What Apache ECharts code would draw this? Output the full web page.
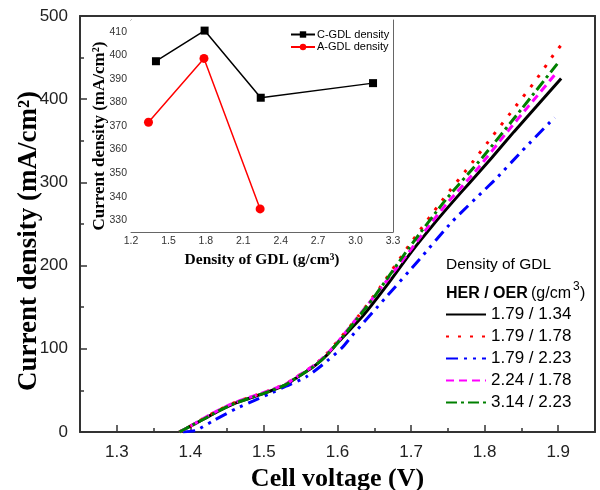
<!DOCTYPE html>
<html>
<head>
<meta charset="utf-8">
<script src="https://cdn.jsdelivr.net/npm/echarts@6/dist/echarts.min.js"></script>
<style>html,body{margin:0;padding:0;background:#fff}#c{width:600px;height:490px}</style>
</head>
<body>
<div id="c"></div>
<script>
// ---- main chart data: cell voltage (V) vs current density (mA/cm2) ----
const seriesNames = ['1.79 / 1.34', '1.79 / 1.78', '1.79 / 2.23', '2.24 / 1.78', '3.14 / 2.23'];
const vBlack = [1.385,1.40,1.417,1.44,1.462,1.485,1.508,1.53,1.544,1.558,1.571,1.585,1.602,1.634,1.666,1.70,1.73,1.756,1.78,1.81,1.84,1.87,1.904];
const iBlack = [0,7,15,26,35,42,49,57,65,73,81,92,109,139,175,216,249,276,300,330,361,391,425];
const vRed = [1.385,1.40,1.417,1.44,1.462,1.485,1.508,1.53,1.544,1.558,1.571,1.585,1.602,1.629,1.658,1.697,1.742,1.785,1.811,1.84,1.868,1.895,1.9085];
const iRed = [0,7,16,27,36,43,50,58,66,74,82,94,111,140,174,224,278,326,356,389,421,455,470];
const vBlue = [1.39,1.408,1.43,1.462,1.485,1.508,1.53,1.557,1.58,1.607,1.62,1.666,1.711,1.756,1.801,1.815,1.85,1.895];
const iBlue = [0,2,13,28,37,46,55,66,81,102,116,162,207,253,292,304,337,378];
const vMagenta = [1.385,1.40,1.417,1.44,1.462,1.485,1.508,1.53,1.544,1.558,1.571,1.585,1.602,1.63,1.66,1.69,1.72,1.75,1.79,1.83,1.86,1.896];
const iMagenta = [0,7,16,27,36,43,50,58,66,74,82,93,110,141,174,208,243,276,316,360,392,430];
const vGreen = [1.385,1.40,1.417,1.44,1.462,1.485,1.508,1.53,1.544,1.558,1.571,1.585,1.602,1.647,1.697,1.747,1.797,1.85,1.90];
const iGreen = [0,7,15,26,35,42,49,57,65,73,81,92,109,159,221,279,330,388,444];
const xMajorTicks = [1.3,1.4,1.5,1.6,1.7,1.8,1.9];
const xMinorTicks = [1.35,1.45,1.55,1.65,1.75,1.85];

// ---- inset data: density of GDL (g/cm3) vs current density ----
const insetNames = ['C-GDL density', 'A-GDL density'];
const cDensity = [1.40, 1.79, 2.24, 3.14];
const cCurrent = [397.5, 410.5, 382, 388.2];
const aDensity = [1.34, 1.785, 2.235];
const aCurrent = [371.6, 398.7, 334.8];
const insetYTicks = [330,340,350,360,370,380,390,400,410];
const insetYMinor = [330,335,340,345,350,355,360,365,370,375,380,385,390,395,400,405,410];

const zip = (a, b) => a.map((v, i) => [v, b[i]]);
const SANS = 'Liberation Sans';
const SERIF = 'Liberation Serif';
const AX = '#333';
const IAX = '#666';

const mainStyles = [
  {color:'#000000', type:'solid'},
  {color:'#ff0000', type:[3,9]},
  {color:'#0000ff', type:[12,6,3,6,3,6]},
  {color:'#ff00ff', type:[8,5]},
  {color:'#008000', type:[11,4,3,4]}
];
const mainData = [zip(vBlack,iBlack), zip(vRed,iRed), zip(vBlue,iBlue), zip(vMagenta,iMagenta), zip(vGreen,iGreen)];

const series = mainData.map((d, k) => ({
  name: seriesNames[k], type:'line', xAxisIndex:0, yAxisIndex:0, data:d,
  smooth:0.2, symbol:'none', showSymbol:false,
  lineStyle:{color:mainStyles[k].color, width:3, type:mainStyles[k].type},
  itemStyle:{color:mainStyles[k].color}, z: 2 + k
}));
series.push({
  name: insetNames[0], type:'line', xAxisIndex:3, yAxisIndex:2, data:zip(cDensity,cCurrent),
  symbol:'rect', symbolSize:8, lineStyle:{color:'#000', width:1.5}, itemStyle:{color:'#000'}, z:10
});
series.push({
  name: insetNames[1], type:'line', xAxisIndex:3, yAxisIndex:2, data:zip(aDensity,aCurrent),
  symbol:'circle', symbolSize:9, lineStyle:{color:'#ff0000', width:1.5}, itemStyle:{color:'#ff0000'}, z:10
});

const noSplit = {show:false};
const option = {
  animation:false,
  backgroundColor:'#fff',
  grid:[
    {left:80, right:5, top:16, bottom:58, containLabel:false, outerBoundsMode:'none'},
    {left:131, right:207, top:20, bottom:258, containLabel:false, outerBoundsMode:'none', show:true, backgroundColor:'#fff', borderWidth:0, z:5}
  ],
  xAxis:[
    {type:'value', gridIndex:0, min:1.25, max:1.95, position:'bottom',
     axisLine:{onZero:false, lineStyle:{color:AX, width:2}},
     axisTick:{inside:true, length:7, customValues:xMajorTicks, lineStyle:{color:AX, width:1.5}},
     axisLabel:{customValues:xMajorTicks, formatter:v=>v.toFixed(1), fontFamily:SANS, fontSize:17, color:'#222', margin:12},
     splitLine:noSplit,
     name:'Cell voltage (V)', nameLocation:'middle', nameGap:31,
     nameTextStyle:{fontFamily:SERIF, fontWeight:'bold', fontSize:26, color:'#000'}},
    {type:'value', gridIndex:0, min:1.25, max:1.95, position:'bottom',
     axisLine:{show:false, onZero:false},
     axisTick:{inside:true, length:4, customValues:xMinorTicks, lineStyle:{color:AX, width:1.5}},
     axisLabel:{show:false}, splitLine:noSplit},
    {type:'value', gridIndex:0, min:1.25, max:1.95, position:'top',
     axisLine:{onZero:false, lineStyle:{color:AX, width:2}},
     axisTick:{show:false}, axisLabel:{show:false}, splitLine:noSplit},
    {type:'value', gridIndex:1, min:1.2, max:3.3, interval:0.3, position:'bottom',
     axisLine:{onZero:false, lineStyle:{color:IAX, width:1}},
     axisTick:{inside:true, length:4, lineStyle:{color:IAX}},
     minorTick:{show:true, splitNumber:2, length:2.5, lineStyle:{color:IAX}},
     axisLabel:{formatter:v=>v.toFixed(1), fontFamily:SANS, fontSize:10.5, color:'#333', margin:4},
     splitLine:noSplit,
     name:'Density of GDL (g/cm³)', nameLocation:'middle', nameGap:20,
     nameTextStyle:{fontFamily:SERIF, fontWeight:'bold', fontSize:15.5, color:'#000'}},
    {type:'value', gridIndex:1, min:1.2, max:3.3, position:'top',
     axisLine:{onZero:false, lineStyle:{color:IAX, width:1}},
     axisTick:{show:false}, axisLabel:{show:false}, splitLine:noSplit}
  ],
  yAxis:[
    {type:'value', gridIndex:0, min:0, max:500, interval:100, position:'left',
     axisLine:{show:true, onZero:false, lineStyle:{color:AX, width:2}},
     axisTick:{show:true, inside:true, length:7, lineStyle:{color:AX, width:1.5}},
     minorTick:{show:true, splitNumber:2, length:4, lineStyle:{color:AX, width:1.5}},
     axisLabel:{fontFamily:SANS, fontSize:17, color:'#222', margin:12},
     splitLine:noSplit},
    {type:'value', gridIndex:0, min:0, max:500, position:'right',
     axisLine:{show:true, onZero:false, lineStyle:{color:AX, width:2}},
     axisTick:{show:false}, axisLabel:{show:false}, splitLine:noSplit},
    {type:'value', gridIndex:1, min:325, max:415, position:'left',
     axisLine:{show:true, onZero:false, lineStyle:{color:IAX, width:1}},
     axisTick:{show:true, inside:true, length:3, customValues:insetYMinor, lineStyle:{color:IAX}},
     axisLabel:{customValues:insetYTicks, fontFamily:SANS, fontSize:10.5, color:'#333', margin:4},
     splitLine:noSplit},
    {type:'value', gridIndex:1, min:325, max:415, position:'right',
     axisLine:{show:true, onZero:false, lineStyle:{color:IAX, width:1}},
     axisTick:{show:false}, axisLabel:{show:false}, splitLine:noSplit}
  ],
  legend:[
    {data:seriesNames, orient:'vertical', left:445, top:306, padding:0, itemWidth:40, itemHeight:14, itemGap:5,
     itemStyle:{opacity:0, color:'rgba(0,0,0,0)', borderWidth:0},
     textStyle:{fontFamily:SANS, fontSize:17, color:'#000', padding:[0,0,0,0]}},
    {data:insetNames, orient:'vertical', left:290, top:29, padding:0, itemWidth:24, itemHeight:8, itemGap:1.5,
     textStyle:{fontFamily:SANS, fontSize:11, color:'#000', padding:[0,0,0,-3]}, z:12}
  ],
  graphic:[
    {type:'text', x:29, y:241, rotation:Math.PI/2, style:{text:'Current density (mA/cm²)', fontFamily:SERIF, fontWeight:'bold', fontSize:27, fill:'#000', align:'center', verticalAlign:'middle'}},
    {type:'text', x:100, y:136, rotation:Math.PI/2, z:20, style:{text:'Current density (mA/cm²)', fontFamily:SERIF, fontWeight:'bold', fontSize:17, fill:'#000', align:'center', verticalAlign:'middle'}},
    {type:'text', left:446, top:257, style:{text:'Density of GDL', fontFamily:SANS, fontSize:15.5, fill:'#000'}},
    {type:'text', left:446, top:286, style:{text:'HER / OER', fontFamily:SANS, fontWeight:'bold', fontSize:16, fill:'#000'}},
    {type:'text', left:531, top:286, style:{text:'(g/cm', fontFamily:SANS, fontSize:16, fill:'#000'}},
    {type:'text', left:573, top:281, style:{text:'3', fontFamily:SANS, fontSize:12, fill:'#000'}},
    {type:'text', left:580, top:286, style:{text:')', fontFamily:SANS, fontSize:16, fill:'#000'}}
  ],
  series: series
};
const chart = echarts.init(document.getElementById('c'), null, {renderer:'canvas'});
chart.setOption(option);
</script>
</body>
</html>
